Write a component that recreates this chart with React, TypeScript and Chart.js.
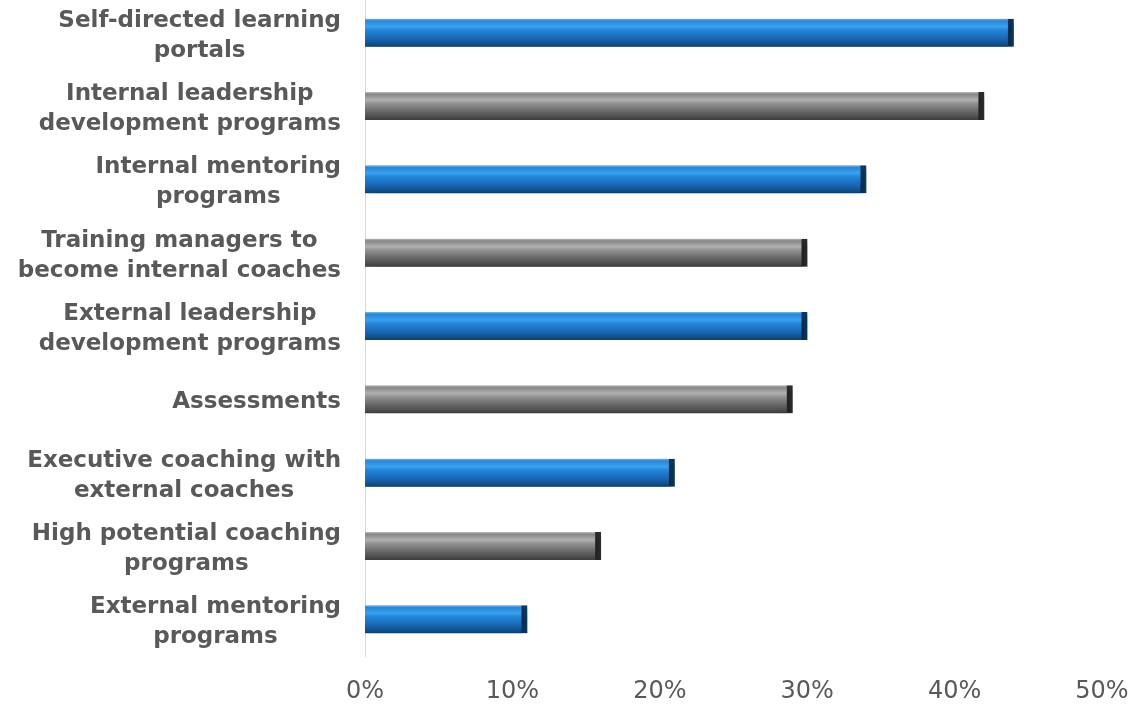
import React, { useEffect, useRef } from "react";
import { Chart, registerables } from "chart.js";

Chart.register(...registerables);

const categories: string[][] = [
  ["Self-directed learning", "portals"],
  ["Internal leadership", "development programs"],
  ["Internal mentoring", "programs"],
  ["Training managers to", "become internal coaches"],
  ["External leadership", "development programs"],
  ["Assessments"],
  ["Executive coaching with", "external coaches"],
  ["High potential coaching", "programs"],
  ["External mentoring", "programs"],
];

const values: number[] = [44, 42, 34, 30, 30, 29, 21, 16, 11];

const xTicks: number[] = [0, 10, 20, 30, 40, 50];

const BAR_H = 28;
const FONT = "DejaVu Sans";

const BLUE = {
  stops: [
    [0, "#7ab8e8"],
    [0.08, "#2a86d6"],
    [0.28, "#38a2f0"],
    [0.42, "#2284d8"],
    [0.7, "#1a68b4"],
    [0.9, "#114f8c"],
    [1, "#0c3d6c"],
  ],
  edge: "#0b3a66",
};
const GRAY = {
  stops: [
    [0, "#bdbdbd"],
    [0.08, "#868686"],
    [0.28, "#b0b0b0"],
    [0.42, "#909090"],
    [0.7, "#666666"],
    [0.9, "#4c4c4c"],
    [1, "#3c3c3c"],
  ],
  edge: "#2e2e2e",
};

const labelPlugin = {
  id: "centeredLabels",
  afterDraw(chart: any) {
    const c = chart.ctx;
    const yScale = chart.scales.y;
    c.save();
    c.font = `bold 23px "${FONT}"`;
    c.fillStyle = "#595959";
    c.textAlign = "center";
    c.textBaseline = "middle";
    const right = 341;
    const lh = 30;
    categories.forEach((lines, i) => {
      const yc = yScale.getPixelForValue(i) + 3;
      const maxW = Math.max(...lines.map((l) => c.measureText(l).width));
      const cx = right - maxW / 2;
      const y0 = yc - ((lines.length - 1) * lh) / 2;
      lines.forEach((l, k) => c.fillText(l, cx, y0 + k * lh));
    });
    c.restore();
  },
};

const shadowPlugin = {
  id: "barShadow",
  beforeDatasetsDraw(chart: any) {
    const c = chart.ctx;
    c.save();
    c.shadowColor = "rgba(0,0,0,0.35)";
    c.shadowBlur = 6;
    c.shadowOffsetX = 3;
    c.shadowOffsetY = 4;
  },
  afterDatasetsDraw(chart: any) {
    chart.ctx.restore();
  },
};

export default function App() {
  const ref = useRef<HTMLCanvasElement>(null);
  useEffect(() => {
    if (!ref.current) return;
    let chart: any = null;
    let cancelled = false;
    const make = () => {
      if (cancelled || !ref.current) return;
      chart = new Chart(ref.current, {
        type: "bar",
        data: {
          labels: categories.map((l) => l.join(" ")),
          datasets: [
            {
              data: values,
              barThickness: BAR_H,
              backgroundColor: (ctx: any) => {
                const ch = ctx.chart;
                const pal = ctx.dataIndex % 2 === 0 ? BLUE : GRAY;
                if (!ch.chartArea) return pal.stops[3][1];
                const y = ch.scales.y.getPixelForValue(ctx.dataIndex);
                const g = ch.ctx.createLinearGradient(0, y - BAR_H / 2, 0, y + BAR_H / 2);
                pal.stops.forEach(([o, col]: any) => g.addColorStop(o, col));
                return g;
              },
              borderColor: (ctx: any) => (ctx.dataIndex % 2 === 0 ? BLUE.edge : GRAY.edge),
              borderWidth: { top: 0, bottom: 0, left: 0, right: 6 } as any,
              borderSkipped: false as any,
            },
          ],
        },
        options: {
          indexAxis: "y",
          animation: false,
          responsive: false,
          maintainAspectRatio: false,
          layout: { padding: { top: 0, right: 32, bottom: 0, left: 0 } },
          plugins: { legend: { display: false }, tooltip: { enabled: false } },
          scales: {
            x: {
              min: 0,
              max: 50,
              afterBuildTicks: (scale: any) => {
                scale.ticks = xTicks.map((v) => ({ value: v }));
              },
              afterFit: (scale: any) => {
                scale.height = 48;
                scale.paddingLeft = 0;
                scale.paddingRight = 0;
              },
              grid: { display: false, drawTicks: false },
              border: { display: false },
              ticks: {
                padding: 21,
                color: "#595959",
                font: { family: FONT, size: 24 },
                callback: (v: any) => v + "%",
                maxRotation: 0,
              },
            },
            y: {
              grid: { display: false, drawTicks: false },
              border: { display: true, color: "#d9d9d9", width: 1 },
              ticks: { display: false },
              afterFit: (scale: any) => {
                scale.width = 365;
              },
            },
          },
        },
        plugins: [shadowPlugin, labelPlugin],
      } as any);
    };
    const fonts: any = (document as any).fonts;
    if (fonts && fonts.load) {
      Promise.all([
        fonts.load(`bold 23px "${FONT}"`),
        fonts.load(`24px "${FONT}"`),
      ]).then(make, make);
    } else {
      make();
    }
    return () => {
      cancelled = true;
      if (chart) chart.destroy();
    };
  }, []);
  return (
    <div style={{ position: "absolute", left: 0, top: -4, width: 1134, height: 708, background: "#fff" }}>
      <canvas ref={ref} width={1134} height={708} style={{ display: "block" }} />
    </div>
  );
}
